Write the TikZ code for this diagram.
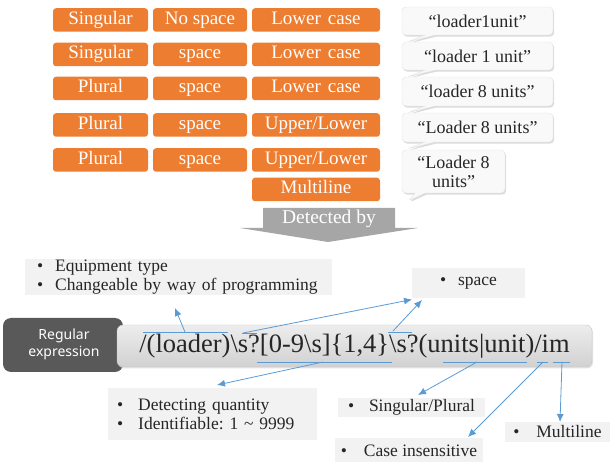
\documentclass[tikz,border=0pt]{standalone}
\usepackage{fontspec}
\setmainfont{Liberation Serif}
\newfontfamily\sansf{Noto Sans}
\usetikzlibrary{shadows,arrows.meta,shapes.callouts}
\definecolor{orng}{HTML}{ED7D31}
\definecolor{lnk}{HTML}{5B9BD5}
\definecolor{infog}{HTML}{F2F2F2}
\definecolor{darkg}{HTML}{595959}
\definecolor{arrg}{HTML}{A6A6A6}
\definecolor{txt}{HTML}{262626}
\begin{document}
\begin{tikzpicture}[x=1pt,y=-1pt,
  obox/.style={fill=orng, rounded corners=3pt, text=white, inner sep=0pt,
    font=\fontsize{19}{21}\selectfont, minimum height=23.5pt,
    text height=12.5pt, text depth=3.5pt},
  call/.style={rectangle callout, fill=gray!5, draw=gray!22, line width=0.4pt,
    rounded corners=4pt, callout pointer width=10pt,
    drop shadow={shadow xshift=1.2pt, shadow yshift=-1.6pt, fill=gray!55},
    text=txt, font=\fontsize{18}{19}\selectfont, inner sep=0pt, minimum width=151pt},
  info/.style={fill=infog, inner sep=0pt, text=txt, font=\fontsize{17.5}{19.5}\selectfont},
  link/.style={draw=lnk, line width=0.8pt},
  arr/.style={link, -{Latex[length=8pt,width=7pt]}}
]
\useasboundingbox (0,0) rectangle (611,462);

% orange rows
\node[obox, minimum width=95pt]  (o11) at (100.5,20)   {Singular};
\node[obox, minimum width=94pt]  (o12) at (200,20)     {No space};
\node[obox, minimum width=128pt] (o13) at (316,20)     {Lower\hspace{7pt}case};
\node[obox, minimum width=95pt]  (o21) at (100.5,54.5) {Singular};
\node[obox, minimum width=94pt]  (o22) at (200,54.5)   {space};
\node[obox, minimum width=128pt] (o23) at (316,54.5)   {Lower\hspace{7pt}case};
\node[obox, minimum width=95pt]  (o31) at (100.5,88.5) {Plural};
\node[obox, minimum width=94pt]  (o32) at (200,88.5)   {space};
\node[obox, minimum width=128pt] (o33) at (316,88.5)   {Lower\hspace{7pt}case};
\node[obox, minimum width=95pt]  (o41) at (100.5,125)  {Plural};
\node[obox, minimum width=94pt]  (o42) at (200,125)    {space};
\node[obox, minimum width=128pt] (o43) at (316,125)    {Upper/Lower};
\node[obox, minimum width=95pt]  (o51) at (100.5,160)  {Plural};
\node[obox, minimum width=94pt]  (o52) at (200,160)    {space};
\node[obox, minimum width=128pt] (o53) at (316,160)    {Upper/Lower};
\node[obox, minimum width=128pt] (o63) at (316,189.5)  {Multiline};

% callouts
\node[call, minimum height=28pt, callout absolute pointer={(407,42)}]  (c1) at (477.5,21)   {“loader1unit”};
\node[call, minimum height=28pt, callout absolute pointer={(407,77)}]  (c2) at (477.5,56)   {“loader 1 unit”};
\node[call, minimum height=29pt, callout absolute pointer={(407,113)}] (c3) at (477.5,91.5) {“loader 8 units”};
\node[call, minimum height=29pt, callout absolute pointer={(407,149)}] (c4) at (477.5,127.5){“Loader 8 units”};
\node[call, minimum width=103pt, minimum height=43pt, align=center,
      callout absolute pointer={(408,201)}] (c5) at (453.5,171.5) {“Loader 8\\units”};

% detected by arrow
\fill[arrg] (263,208) -- (395,208) -- (395,228) -- (418,228) -- (328,242)
  -- (240,228) -- (263,228) -- cycle;
\node[text=white, font=\fontsize{19.5}{21}\selectfont, inner sep=0pt] (det) at (329,219) {Detected by};

% info boxes
\node[info, anchor=north west, minimum width=307pt, minimum height=36pt, text width=307pt, align=left]
  (eq) at (25,259) {\hspace*{12pt}\makebox[18pt][l]{•}Equipment type\\
                    \hspace*{12pt}\makebox[18pt][l]{•}Changeable by way of programming};
\node[info, minimum width=113pt, minimum height=30pt] (sp) at (468.5,283) {\makebox[18pt][l]{•}space};
\node[info, anchor=north west, minimum width=209pt, minimum height=52pt, text width=209pt, align=left]
  (dq) at (108,388) {\hspace*{9pt}\makebox[21pt][l]{•}Detecting quantity\\
                     \hspace*{9pt}\makebox[21pt][l]{•}Identifiable:\ 1 \textasciitilde\ 9999};
\node[info, minimum width=147pt, minimum height=19pt] (sg) at (411.5,407.5) {\makebox[21pt][l]{•}Singular/Plural};
\node[info, minimum width=148pt, minimum height=25pt] (ci) at (409,450.5) {\makebox[23pt][l]{•}Case insensitive};
\node[info, minimum width=105pt, minimum height=20pt] (ml) at (557.5,432) {\makebox[23pt][l]{•}Multiline};

% regular expression
\node[fill=darkg, rounded corners=8pt, minimum width=120pt, minimum height=54pt, inner sep=0pt]
  (rx) at (63,345) {};
\node[text=white, font=\sansf\fontsize{14}{17}\selectfont, align=center, inner sep=0pt]
  (rxt) at (64,344) {Regular\\expression};
\node[rounded corners=6pt, top color=gray!14, bottom color=gray!36, draw=gray!45, line width=0.4pt,
      drop shadow={shadow xshift=1pt, shadow yshift=-1.5pt, fill=gray!45},
      minimum width=475pt, minimum height=42pt, inner sep=0pt, text=txt,
      font=\fontsize{26.5}{28}\selectfont]
  (re) at (354.5,346) {/(loader)\textbackslash s?[0-9\textbackslash s]\{1,4\}\textbackslash s?(units|unit)/im};

% underlines
\coordinate (u1a) at (143,332); \coordinate (u1b) at (228,332);
\coordinate (u2a) at (242,333); \coordinate (u2b) at (257,333);
\coordinate (u3a) at (257,362); \coordinate (u3b) at (392,362);
\coordinate (u4a) at (388,332); \coordinate (u4b) at (412,332);
\coordinate (u5a) at (443,362); \coordinate (u5b) at (527,362);
\coordinate (u6a) at (537,362); \coordinate (u6b) at (548,362);
\coordinate (u7a) at (553,362); \coordinate (u7b) at (570,362);
\foreach \i in {1,...,7} {\draw[link] (u\i a) -- (u\i b);}

% arrows
\coordinate (s1) at (185,332); \coordinate (t1) at (175,308);
\coordinate (s2) at (243,333); \coordinate (t2) at (412,299.5);
\coordinate (s3) at (393,331); \coordinate (t3) at (422,300);
\coordinate (s4) at (323,362); \coordinate (t4) at (217,385);
\coordinate (s5) at (477,362); \coordinate (t5) at (418,395);
\coordinate (s6) at (543,362); \coordinate (t6) at (468,437);
\coordinate (s7) at (562,362); \coordinate (t7) at (560,422);
\foreach \i in {1,...,7} {\draw[arr] (s\i) -- (t\i);}
\end{tikzpicture}
\end{document}
